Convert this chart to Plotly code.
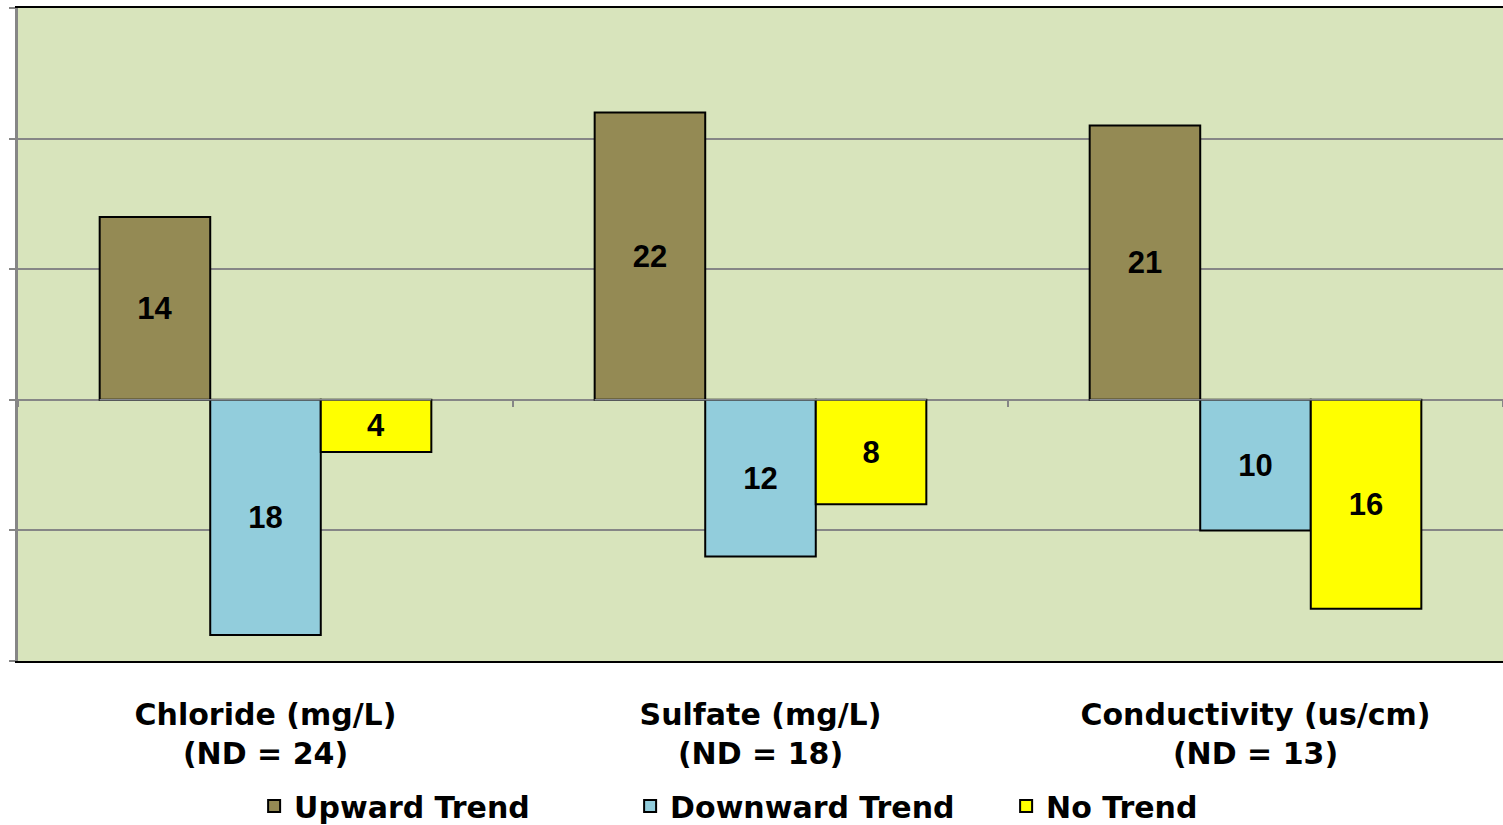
import plotly.graph_objects as go

categories = ["Chloride (mg/L)<br>(ND = 24)", "Sulfate (mg/L)<br>(ND = 18)", "Conductivity (us/cm)<br>(ND = 13)"]
series_names = ["Upward Trend", "Downward Trend", "No Trend"]
upward = [14, 22, 21]
downward = [-18, -12, -10]
no_trend = [-4, -8, -16]
colors = ["#948A54", "#92CDDC", "#FFFF00"]
y_ticks = [-20, -10, 0, 10, 20, 30]

label_font = dict(family="DejaVu Sans", size=30, color="black", weight="bold")
bar_font = dict(family="Liberation Sans", size=31, color="black", weight="bold")

fig = go.Figure()
for name, vals, col in zip(series_names, [upward, downward, no_trend], colors):
    fig.add_trace(go.Bar(
        name=name, x=categories, y=vals,
        text=[str(abs(v)) for v in vals],
        textposition="inside", insidetextanchor="middle", textangle=0,
        constraintext="none", textfont=bar_font,
        marker=dict(color=col, line=dict(color="black", width=2)),
        hoverinfo="skip",
    ))

# invisible helper trace on secondary x axis for boundary ticks on zero line
fig.add_trace(go.Bar(x=categories, y=[0, 0, 0], xaxis="x2", showlegend=False,
                     marker=dict(color="rgba(0,0,0,0)"), hoverinfo="skip"))

fig.update_layout(
    width=1503, height=825,
    margin=dict(l=18, r=0, t=8, b=164, autoexpand=False),
    paper_bgcolor="white", plot_bgcolor="#D8E4BC",
    barmode="group", bargap=0.33, bargroupgap=0,
    showlegend=True,
    legend=dict(orientation="h", xanchor="left", x=0.159, yref="container", y=0.023,
                yanchor="middle", font=label_font, entrywidth=331, entrywidthmode="pixels",
                bgcolor="rgba(0,0,0,0)", traceorder="normal"),
    xaxis=dict(showline=True, linecolor="black", linewidth=2, mirror=True,
               ticks="", showgrid=False, tickfont=label_font, ticklabelstandoff=26,
               automargin=False),
    xaxis2=dict(overlaying="x", anchor="free", position=0.4, side="bottom",
                ticks="outside", tickson="boundaries", ticklen=6, tickwidth=2,
                tickcolor="#868686", showticklabels=False, showline=False,
                showgrid=False, matches="x", automargin=False),
    yaxis=dict(range=[-20, 30], tickvals=y_ticks, showticklabels=False,
               showgrid=True, gridcolor="#868686", gridwidth=2,
               zeroline=True, zerolinecolor="#868686", zerolinewidth=2,
               showline=True, linecolor="#868686", linewidth=3, automargin=False,
               ticks="outside", ticklen=6, tickwidth=2, tickcolor="#868686"),
)

fig.write_html("out.html", config={"displayModeBar": False},
               post_script="document.body.style.margin='0';document.body.style.overflow='hidden';")
